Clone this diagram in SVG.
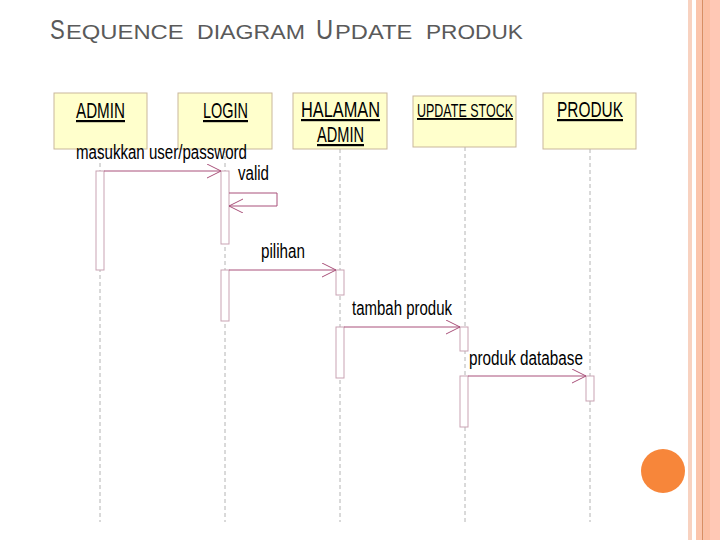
<svg xmlns="http://www.w3.org/2000/svg" width="720" height="540" viewBox="0 0 720 540">
<defs>
<style>
.box{fill:#FFFFCC;stroke:#C9B79C;stroke-width:1}
.lbl{font-family:"Liberation Sans Narrow","Liberation Sans",Arial,sans-serif;font-size:22px;fill:#000;text-decoration:underline}
.msg{font-family:"Liberation Sans Narrow","Liberation Sans",Arial,sans-serif;font-size:20px;fill:#000}
.life{stroke:#B4B4B4;stroke-width:1;stroke-dasharray:4 3;fill:none}
.act{fill:#FFFFFF;stroke:#C9A3B3;stroke-width:1}
.ln{stroke:#A9507A;stroke-width:1;fill:none}
.title{font-family:"Liberation Sans",Arial,sans-serif;fill:#5A5A5A}
.big{font-size:27px}
.sm{font-size:20px}
</style>
<marker id="open" markerWidth="16" markerHeight="16" refX="14" refY="7" orient="auto" markerUnits="userSpaceOnUse">
<path d="M0,0 L14,7 L0,14" fill="none" stroke="#A9507A" stroke-width="1"/>
</marker>
</defs>
<rect x="0" y="0" width="720" height="540" fill="#FFFFFF"/>
<g id="border">
<rect x="688" y="0" width="4" height="540" fill="#F8D2C0"/>
<rect x="696" y="0" width="6" height="540" fill="#FBC5AC"/>
<rect x="702" y="0" width="1.5" height="540" fill="#D98E63"/>
<rect x="703.5" y="0" width="6.5" height="540" fill="#FCBFA3"/>
<rect x="710" y="0" width="10" height="540" fill="#FFC8B5"/>
</g>
<circle cx="663" cy="471" r="22" fill="#F7863A"/>
<g id="title">
<text class="title big" transform="translate(50,39) scale(0.82,1)" x="0" y="0">S</text>
<text class="title sm" transform="translate(66,39) scale(1.19,1)" x="0" y="0">EQUENCE</text>
<text class="title sm" transform="translate(197,39) scale(1.157,1)" x="0" y="0">DIAGRAM</text>
<text class="title big" transform="translate(316,39) scale(0.88,1)" x="0" y="0">U</text>
<text class="title sm" transform="translate(335,39) scale(1.185,1)" x="0" y="0">PDATE</text>
<text class="title sm" transform="translate(426,39) scale(1.133,1)" x="0" y="0">PRODUK</text>
</g>
<g id="lifelines">
<line class="life" x1="100" y1="149" x2="100" y2="522"/>
<line class="life" x1="225" y1="149" x2="225" y2="522"/>
<line class="life" x1="340" y1="149" x2="340" y2="522"/>
<line class="life" x1="465" y1="147" x2="465" y2="522"/>
<line class="life" x1="590" y1="149" x2="590" y2="522"/>
</g>
<g id="node-admin">
<rect class="box" x="54" y="93" width="93" height="56"/>
<text class="lbl" x="76" y="118" textLength="49" lengthAdjust="spacingAndGlyphs">ADMIN</text>
</g>
<g id="node-login">
<rect class="box" x="178" y="93" width="94" height="56"/>
<text class="lbl" x="203" y="118" textLength="45" lengthAdjust="spacingAndGlyphs">LOGIN</text>
</g>
<g id="node-halaman">
<rect class="box" x="293" y="93" width="94" height="56"/>
<text class="lbl" x="301" y="117" textLength="79" lengthAdjust="spacingAndGlyphs">HALAMAN</text>
<text class="lbl" x="317" y="142" textLength="47" lengthAdjust="spacingAndGlyphs">ADMIN</text>
</g>
<g id="node-update">
<rect class="box" x="413" y="96" width="103" height="51"/>
<text class="lbl" x="417" y="117" style="font-size:19px" textLength="96" lengthAdjust="spacingAndGlyphs">UPDATE STOCK</text>
</g>
<g id="node-produk">
<rect class="box" x="543" y="93" width="93" height="56"/>
<text class="lbl" x="557" y="117" textLength="66" lengthAdjust="spacingAndGlyphs">PRODUK</text>
</g>
<g id="activations">
<rect class="act" x="96" y="171" width="8" height="99"/>
<rect class="act" x="221" y="171" width="8" height="73"/>
<rect class="act" x="221" y="270" width="8" height="51"/>
<rect class="act" x="336" y="270" width="8" height="25"/>
<rect class="act" x="336" y="327" width="8" height="51"/>
<rect class="act" x="460" y="327" width="8" height="24"/>
<rect class="act" x="460" y="376" width="8" height="51"/>
<rect class="act" x="586" y="376" width="8" height="25"/>
</g>
<g id="connectors">
<line class="ln" x1="104" y1="171" x2="221" y2="171" marker-end="url(#open)"/>
<polyline class="ln" points="229,193 277,193 277,206 229,206" marker-end="url(#open)"/>
<line class="ln" x1="229" y1="270" x2="336" y2="270" marker-end="url(#open)"/>
<line class="ln" x1="344" y1="327" x2="460" y2="327" marker-end="url(#open)"/>
<line class="ln" x1="468" y1="376" x2="586" y2="376" marker-end="url(#open)"/>
</g>
<g id="labels">
<text class="msg" x="76" y="159" textLength="171" lengthAdjust="spacingAndGlyphs">masukkan user/password</text>
<text class="msg" x="238" y="180" textLength="31" lengthAdjust="spacingAndGlyphs">valid</text>
<text class="msg" x="261" y="258" textLength="44" lengthAdjust="spacingAndGlyphs">pilihan</text>
<text class="msg" x="352" y="315" textLength="100" lengthAdjust="spacingAndGlyphs">tambah produk</text>
<text class="msg" x="469" y="365" textLength="114" lengthAdjust="spacingAndGlyphs">produk database</text>
</g>
</svg>
